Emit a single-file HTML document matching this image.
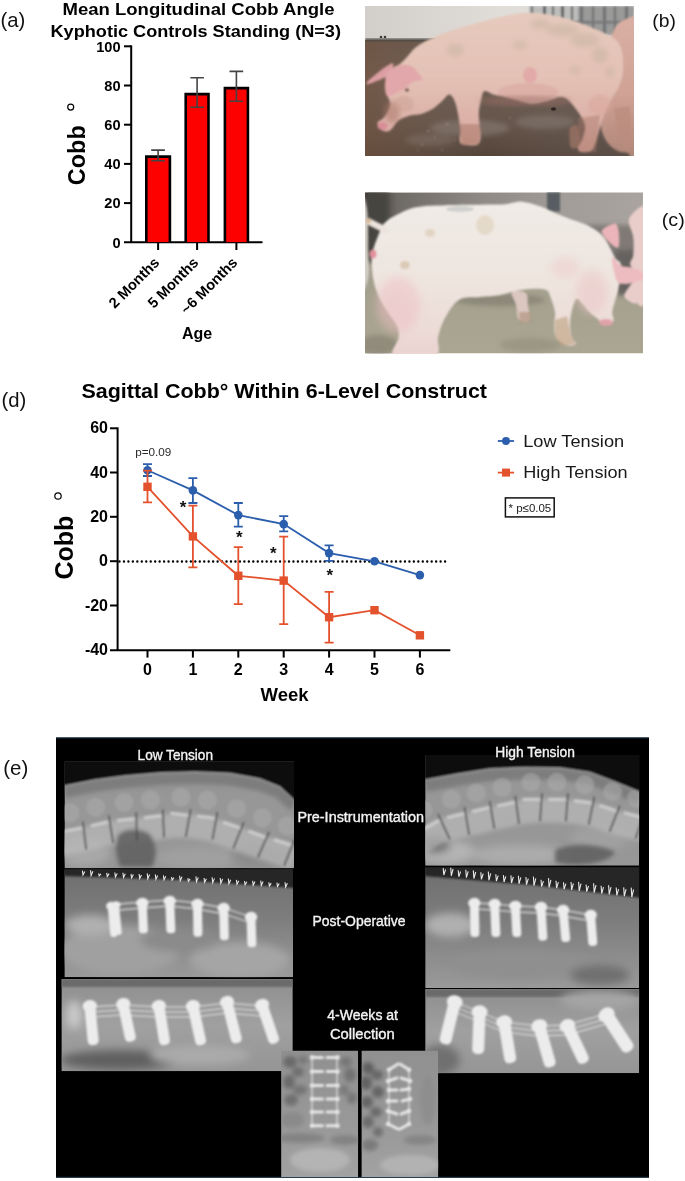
<!DOCTYPE html>
<html><head><meta charset="utf-8">
<style>
html,body{margin:0;padding:0;background:#fff;}
body{width:685px;height:1181px;overflow:hidden;}
svg{display:block;will-change:transform;}
text{font-family:"Liberation Sans",sans-serif;}
</style></head>
<body>
<svg width="685" height="1181" viewBox="0 0 685 1181">
<defs>
  <filter id="blur1" x="-10%" y="-10%" width="120%" height="120%"><feGaussianBlur stdDeviation="1.2"/></filter>
  <filter id="blur2" x="-10%" y="-10%" width="120%" height="120%"><feGaussianBlur stdDeviation="2.5"/></filter>
  <filter id="blur4" x="-20%" y="-20%" width="140%" height="140%"><feGaussianBlur stdDeviation="4"/></filter>
</defs>
<rect width="685" height="1181" fill="#fff"/>

<!-- ============ (a) BAR CHART ============ -->
<g id="chartA">
  <text x="0.5" y="27" font-size="20.3" fill="#111">(a)</text>
  <text x="62.5" y="15" font-size="16.4" font-weight="bold" textLength="272" lengthAdjust="spacingAndGlyphs" fill="#000">Mean Longitudinal Cobb Angle</text>
  <text x="50.5" y="36.8" font-size="16.4" font-weight="bold" textLength="290.5" lengthAdjust="spacingAndGlyphs" fill="#000">Kyphotic Controls Standing (N=3)</text>
  <!-- axes -->
  <g stroke="#000" stroke-width="2" fill="none">
    <line x1="131.2" y1="45.3" x2="131.2" y2="243"/>
    <line x1="124" y1="242.3" x2="262.5" y2="242.3"/>
    <line x1="124" y1="46.3" x2="131" y2="46.3"/>
    <line x1="124" y1="85.5" x2="131" y2="85.5"/>
    <line x1="124" y1="124.7" x2="131" y2="124.7"/>
    <line x1="124" y1="163.9" x2="131" y2="163.9"/>
    <line x1="124" y1="203.1" x2="131" y2="203.1"/>
    <line x1="158.1" y1="242.3" x2="158.1" y2="250"/>
    <line x1="197.1" y1="242.3" x2="197.1" y2="250"/>
    <line x1="236.4" y1="242.3" x2="236.4" y2="250"/>
  </g>
  <g font-size="14.6" font-weight="bold" text-anchor="end" fill="#000">
    <text x="120.6" y="51.6">100</text>
    <text x="120.6" y="90.8">80</text>
    <text x="120.6" y="130">60</text>
    <text x="120.6" y="169.2">40</text>
    <text x="120.6" y="208.4">20</text>
    <text x="120.6" y="247.6">0</text>
  </g>
  <!-- bars -->
  <g fill="#fd0000">
    <rect x="146.3" y="156.6" width="23.6" height="85.5"/>
    <rect x="185.7" y="94.1" width="22.8" height="148"/>
    <rect x="224.9" y="88.1" width="23" height="154"/>
  </g>
  <g fill="none" stroke="#000" stroke-width="2.6">
    <path d="M146.3 242V156.6H169.9V242"/>
    <path d="M185.7 242V94.1H208.5V242"/>
    <path d="M224.9 242V88.1H247.9V242"/>
  </g>
  <!-- error bars -->
  <g stroke="#444" stroke-width="1.6" fill="none">
    <path d="M151.2 150.1H164.9M158.1 150.1V160.7M151.2 160.7H164.9"/>
    <path d="M190.4 77.7H203.9M197.1 77.7V107.2M190.4 107.2H203.9"/>
    <path d="M229.5 71.4H243.2M236.4 71.4V101.2M229.5 101.2H243.2"/>
  </g>
  <!-- y label -->
  <text transform="translate(85,185.2) rotate(-90)" font-size="23.6" font-weight="bold" textLength="60" lengthAdjust="spacingAndGlyphs" fill="#000">Cobb</text>
  <circle cx="70.7" cy="107.1" r="3" fill="none" stroke="#000" stroke-width="1.2"/>
  <!-- x labels rotated -->
  <g font-size="14.7" font-weight="bold" text-anchor="end" fill="#000">
    <text transform="translate(160.3,263.5) rotate(-45)">2 Months</text>
    <text transform="translate(199.3,263.5) rotate(-45)">5 Months</text>
    <text transform="translate(238.4,263.5) rotate(-45)">~6 Months</text>
  </g>
  <text x="182" y="338.6" font-size="16" font-weight="bold" fill="#000">Age</text>
</g>


<g id="photoB">
  <text x="652.3" y="27.4" font-size="18.8" textLength="23.6" lengthAdjust="spacingAndGlyphs" fill="#111">(b)</text>
  <clipPath id="clipB"><rect x="365" y="6" width="269" height="150"/></clipPath>
  <linearGradient id="wallB" x1="0" y1="0" x2="1" y2="0">
    <stop offset="0" stop-color="#d2cec9"/><stop offset="0.5" stop-color="#e0ddd9"/><stop offset="1" stop-color="#dfdedc"/>
  </linearGradient>
  <linearGradient id="floorB" x1="0" y1="0" x2="0" y2="1">
    <stop offset="0" stop-color="#64554c"/><stop offset="0.3" stop-color="#6e5e54"/><stop offset="0.7" stop-color="#65554b"/><stop offset="1" stop-color="#54443a"/>
  </linearGradient>
  <linearGradient id="floorB2" x1="0" y1="0" x2="1" y2="0">
    <stop offset="0" stop-color="#76553f" stop-opacity="0.55"/><stop offset="0.45" stop-color="#7a6a62" stop-opacity="0"/><stop offset="1" stop-color="#5f5855" stop-opacity="0.5"/>
  </linearGradient>
  <linearGradient id="pigB" x1="0" y1="0" x2="0" y2="1">
    <stop offset="0" stop-color="#e6cabd"/><stop offset="0.45" stop-color="#e4c2b6"/><stop offset="0.8" stop-color="#dcb0a6"/><stop offset="1" stop-color="#cf9f93"/>
  </linearGradient>
  <g clip-path="url(#clipB)">
    <rect x="365" y="6" width="269" height="35" fill="url(#wallB)"/>
    <rect x="365" y="40" width="269" height="116" fill="url(#floorB)"/>
    <rect x="365" y="40" width="269" height="116" fill="url(#floorB2)"/>
    <g filter="url(#blur2)">
      <ellipse cx="470" cy="128" rx="40" ry="8" fill="#8d7f78" opacity="0.55"/>
      <ellipse cx="545" cy="122" rx="30" ry="7" fill="#887c76" opacity="0.5"/>
      <ellipse cx="430" cy="140" rx="25" ry="6" fill="#84766f" opacity="0.45"/>
    </g>
    <g fill="#cfc6c1" opacity="0.55" filter="url(#blur1)">
      <circle cx="428" cy="131" r="0.9"/><circle cx="435" cy="137" r="0.8"/><circle cx="422" cy="145" r="0.8"/><circle cx="447" cy="124" r="0.9"/>
      <circle cx="455" cy="140" r="0.7"/><circle cx="418" cy="150" r="0.7"/><circle cx="442" cy="150" r="0.8"/><circle cx="510" cy="118" r="0.8"/>
    </g>
    <rect x="365" y="38.5" width="170" height="2.6" fill="#4a4642" filter="url(#blur1)"/>
    <circle cx="381" cy="37" r="1.3" fill="#3d3a36"/><circle cx="385" cy="37" r="1.3" fill="#3d3a36"/>
    <ellipse cx="553.5" cy="109" rx="2.6" ry="1.8" fill="#2e2420"/>
    <!-- gate -->
    <g filter="url(#blur1)">
      <rect x="529" y="6" width="105" height="28" fill="#bdbdbb"/>
      <g fill="#5a5c5f">
        <rect x="531" y="6" width="2" height="26"/><rect x="543" y="6" width="3" height="26"/><rect x="552" y="6" width="2" height="26"/>
        <rect x="561" y="6" width="3" height="26"/><rect x="571" y="6" width="2" height="26"/><rect x="580" y="6" width="3" height="26"/>
        <rect x="592" y="6" width="2" height="26"/><rect x="603" y="6" width="3" height="28"/><rect x="614" y="6" width="2" height="28"/><rect x="625" y="6" width="3" height="28"/>
      </g>
      <rect x="529" y="21" width="105" height="2.5" fill="#6f6f6f"/>
      <rect x="578" y="6" width="56" height="30" fill="#7d7d7d" opacity="0.55"/>
    </g>
    <g filter="url(#blur1)">
      <linearGradient id="pig2Bg" x1="0" y1="0" x2="0" y2="1"><stop offset="0" stop-color="#dcb2a6"/><stop offset="0.55" stop-color="#d0a296"/><stop offset="1" stop-color="#a98274"/></linearGradient>
      <path d="M611.0 42.0C610.3 36.3 614.2 28.3 618.0 24.0C621.8 19.7 631.0 17.3 634.0 16.0C637.0 14.7 635.7 -7.7 636.0 16.0C636.3 39.7 637.3 135.2 636.0 158.0C634.7 180.8 631.0 154.2 628.0 153.0C625.0 151.8 621.5 152.8 618.0 151.0C614.5 149.2 609.8 146.2 607.0 142.0C604.2 137.8 601.3 131.7 601.0 126.0C600.7 120.3 602.5 113.7 605.0 108.0C607.5 102.3 613.2 97.3 616.0 92.0C618.8 86.7 621.0 81.7 622.0 76.0C623.0 70.3 623.8 63.7 622.0 58.0C620.2 52.3 611.7 47.7 611.0 42.0Z" fill="url(#pig2Bg)"/>
      <path d="M614 108 L630 106 L632 148 L626 152 L618 140 Z" fill="#b98c7e" opacity="0.7"/>
      <path d="M570.0 128.0C571.2 125.8 575.4 123.3 577.0 125.0C578.6 126.7 579.2 134.3 579.5 138.0C579.8 141.7 580.4 145.4 579.0 147.0C577.6 148.6 572.6 149.0 571.0 147.5C569.4 146.0 569.7 141.2 569.5 138.0C569.3 134.8 568.8 130.2 570.0 128.0Z" fill="#8e6c5e"/>
      <path d="M377.8 121.9C377.1 123.2 377.5 125.1 378.6 126.7C379.7 128.3 382.3 130.8 384.3 131.3C386.3 131.8 388.3 131.7 390.7 129.9C393.1 128.1 395.5 122.7 398.7 120.3C401.9 117.9 406.2 116.6 410.0 115.5C413.8 114.4 417.5 115.0 421.2 113.9C424.9 112.8 428.9 111.2 432.4 109.0C435.9 106.8 439.4 103.4 442.1 101.0C444.8 98.6 446.8 95.3 448.5 94.6C450.2 93.9 451.2 95.3 452.5 97.0C453.8 98.7 455.0 101.7 456.0 105.0C457.0 108.3 457.8 112.8 458.5 117.0C459.2 121.2 460.3 126.2 460.5 130.0C460.7 133.8 459.3 137.2 459.5 139.5C459.7 141.8 459.8 143.0 461.5 144.0C463.2 145.0 467.2 145.4 470.0 145.5C472.8 145.6 476.2 145.6 478.0 144.5C479.8 143.4 480.2 141.5 480.5 138.8C480.8 136.1 480.3 132.7 480.0 128.3C479.7 123.9 478.6 117.4 478.8 112.6C479.0 107.8 480.4 103.0 481.3 99.4C482.2 95.8 482.3 91.8 484.5 91.0C486.7 90.2 490.6 93.7 494.4 94.8C498.2 95.9 502.7 96.3 507.5 97.5C512.3 98.7 518.9 101.0 523.3 102.0C527.7 103.0 529.8 103.8 533.8 103.6C537.8 103.4 542.6 102.1 547.0 101.0C551.4 99.9 556.6 97.2 560.1 97.0C563.6 96.8 564.9 97.4 568.0 100.0C571.1 102.6 575.7 108.3 578.5 112.6C581.3 116.9 584.3 121.3 585.0 125.7C585.7 130.1 583.7 135.0 582.5 138.8C581.3 142.6 578.1 146.3 578.0 148.5C577.9 150.7 579.7 151.7 582.0 152.0C584.3 152.3 589.1 152.8 591.6 150.6C594.1 148.4 595.1 143.8 596.9 138.8C598.6 133.8 599.9 126.5 602.1 120.4C604.3 114.3 607.4 107.2 610.0 102.0C612.6 96.8 615.8 93.3 617.9 88.9C620.0 84.5 621.6 80.6 622.5 75.8C623.4 71.0 623.2 64.6 623.0 60.0C622.8 55.4 622.2 51.3 621.0 48.0C619.8 44.7 618.5 42.3 616.0 40.0C613.5 37.7 610.3 36.2 606.0 34.0C601.7 31.8 596.0 29.4 590.0 27.0C584.0 24.6 577.5 21.7 570.0 19.5C562.5 17.3 553.2 15.1 545.0 14.0C536.8 12.9 529.3 12.3 521.0 13.0C512.7 13.7 503.5 16.0 495.0 18.0C486.5 20.0 477.5 22.8 470.0 25.0C462.5 27.2 455.8 29.0 450.0 31.0C444.2 33.0 439.2 35.2 435.0 37.0C430.8 38.8 428.3 39.7 425.0 41.5C421.7 43.3 418.0 45.4 415.0 48.0C412.0 50.6 409.5 54.3 407.0 57.0C404.5 59.7 402.3 62.2 400.0 64.0C397.7 65.8 395.1 65.8 393.0 68.0C390.9 70.2 388.8 73.7 387.5 77.0C386.2 80.3 385.4 84.7 385.5 88.0C385.6 91.3 387.2 94.3 388.0 97.0C388.8 99.7 390.3 101.7 390.2 104.2C390.1 106.8 388.8 109.9 387.5 112.3C386.2 114.7 384.3 117.1 382.7 118.7C381.1 120.3 378.5 120.6 377.8 121.9Z" fill="url(#pigB)"/>
      <g fill="#b3a78f" opacity="0.33" filter="url(#blur2)">
        <ellipse cx="585" cy="40" rx="14" ry="7"/><ellipse cx="562" cy="30" rx="16" ry="6"/><ellipse cx="600" cy="55" rx="8" ry="8"/>
        <ellipse cx="540" cy="24" rx="10" ry="5"/><ellipse cx="455" cy="50" rx="9" ry="6"/><ellipse cx="575" cy="70" rx="5" ry="4"/>
        <ellipse cx="610" cy="72" rx="4" ry="6"/><ellipse cx="520" cy="45" rx="7" ry="4"/>
      </g>
      <ellipse cx="528" cy="92" rx="30" ry="9" fill="#d49a96" opacity="0.35"/>
      <ellipse cx="525" cy="101" rx="46" ry="5" fill="#9c7067" opacity="0.55" filter="url(#blur2)"/>
      <ellipse cx="530" cy="75" rx="7" ry="8" fill="#e08e98" opacity="0.45"/>
      <ellipse cx="600" cy="105" rx="12" ry="10" fill="#d9a399" opacity="0.4"/>
      <path d="M459 124 L480 124 L479 144 L462 145 Z" fill="#a9786a" opacity="0.55"/>
      <path d="M578 118 L600 115 L596 152 L579 152 Z" fill="#a9786a" opacity="0.45"/>
      <ellipse cx="392" cy="112" rx="8" ry="11" fill="#a9786a" opacity="0.55" filter="url(#blur2)"/>
      <ellipse cx="404" cy="104" rx="10" ry="8" fill="#c9a093" opacity="0.45"/>
      <path d="M393.0 63.5C391.8 62.5 387.0 66.1 384.0 68.0C381.0 69.9 377.7 72.8 375.0 75.0C372.3 77.2 369.4 79.5 368.0 81.0C366.6 82.5 366.0 83.6 366.3 84.0C366.6 84.4 368.1 84.1 370.0 83.5C371.9 82.9 375.3 81.6 378.0 80.5C380.7 79.4 383.8 78.1 386.0 77.0C388.2 75.9 389.8 76.2 391.0 74.0C392.2 71.8 394.2 64.5 393.0 63.5Z" fill="#dc9fa3"/>
      <path d="M387.5 72.1C389.9 69.9 396.3 66.2 400.3 65.2C404.3 64.2 408.7 65.0 411.6 66.3C414.6 67.5 416.2 70.5 418.0 72.7C419.8 74.9 423.3 78.0 422.5 79.5C421.7 81.0 416.1 80.3 413.2 81.8C410.3 83.2 408.1 86.3 405.1 88.2C402.2 90.1 398.4 91.9 395.5 93.3C392.6 94.7 389.2 97.3 387.5 96.5C385.8 95.7 385.3 91.2 385.0 88.2C384.7 85.2 385.2 81.2 385.6 78.5C386.0 75.8 385.1 74.3 387.5 72.1Z" fill="#e2a7aa"/>
      <ellipse cx="407" cy="90" rx="2.2" ry="1.6" fill="#5a3e38"/>
      <ellipse cx="382.5" cy="126" rx="5" ry="4" fill="#d88e98"/>
    </g>
  </g>
</g>
<g id="photoC">
  <text x="661.8" y="226.3" font-size="18.8" textLength="23" lengthAdjust="spacingAndGlyphs" fill="#111">(c)</text>
  <clipPath id="clipC"><rect x="365" y="192.5" width="278" height="161"/></clipPath>
  <linearGradient id="floorC" x1="0" y1="0" x2="0" y2="1">
    <stop offset="0" stop-color="#86817a"/><stop offset="0.4" stop-color="#a29e8d"/><stop offset="1" stop-color="#aaa692"/>
  </linearGradient>
  <linearGradient id="pigC" x1="0" y1="0" x2="0" y2="1">
    <stop offset="0" stop-color="#f0ebe6"/><stop offset="0.5" stop-color="#eee5df"/><stop offset="0.8" stop-color="#ecdcd7"/><stop offset="1" stop-color="#ebd2d1"/>
  </linearGradient>
  <linearGradient id="wallC" x1="0" y1="0" x2="1" y2="0">
    <stop offset="0" stop-color="#3e3d3a"/><stop offset="0.12" stop-color="#6e6a65"/><stop offset="0.4" stop-color="#8d8883"/><stop offset="0.7" stop-color="#a19c97"/><stop offset="1" stop-color="#a9a49f"/>
  </linearGradient>
  <g clip-path="url(#clipC)">
    <rect x="365" y="192.5" width="278" height="161" fill="url(#floorC)"/>
    <rect x="365" y="192.5" width="278" height="42" fill="url(#wallC)"/>
    <g filter="url(#blur2)">
      <rect x="365" y="192.5" width="24" height="70" fill="#46443f"/>
      <rect x="585" y="225" width="58" height="60" fill="#7f7a75"/>
      <rect x="615" y="250" width="28" height="45" fill="#66625e"/>
      <ellipse cx="378" cy="345" rx="20" ry="10" fill="#807a6c" opacity="0.6"/>
      <ellipse cx="530" cy="345" rx="30" ry="7" fill="#8e8a78" opacity="0.5"/>
      <ellipse cx="500" cy="300" rx="45" ry="6" fill="#7c776a" opacity="0.6"/>
    </g>
    <rect x="547" y="192.5" width="13" height="19" fill="#585d63" filter="url(#blur1)"/>
    <g filter="url(#blur1)">
      <path d="M363.0 203.0C363.6 190.0 365.7 202.3 366.5 206.0C367.3 209.7 367.8 217.7 368.0 225.0C368.2 232.3 367.8 242.5 368.0 250.0C368.2 257.5 369.2 264.5 369.0 270.0C368.8 275.5 368.0 280.7 367.0 283.0C366.0 285.3 363.7 297.3 363.0 284.0C362.3 270.7 362.4 216.0 363.0 203.0Z" fill="#d3cdc8"/>
      <path d="M628.7 220.6C629.2 216.1 633.8 212.4 636.2 210.0C638.6 207.6 641.5 206.7 643.0 206.0C644.5 205.3 644.7 190.7 645.0 206.0C645.3 221.3 646.5 281.8 645.0 298.0C643.5 314.2 638.7 302.7 636.2 303.3C633.7 303.9 632.2 303.1 630.2 301.8C628.2 300.6 624.2 298.6 624.2 295.8C624.2 293.0 628.2 288.5 630.2 285.2C632.2 281.9 636.2 279.7 636.2 276.2C636.2 272.7 630.7 267.7 630.2 264.2C629.7 260.7 632.7 259.7 633.2 255.2C633.7 250.7 634.0 242.9 633.2 237.1C632.5 231.3 628.2 225.1 628.7 220.6Z" fill="#e9cdcb"/>
      <path d="M512.0 292.0C510.3 294.0 515.0 300.7 516.0 305.0C517.0 309.3 516.8 315.2 518.0 318.0C519.2 320.8 521.0 321.7 523.0 322.0C525.0 322.3 529.2 322.7 530.0 320.0C530.8 317.3 528.7 310.5 528.0 306.0C527.3 301.5 528.7 295.3 526.0 293.0C523.3 290.7 513.7 290.0 512.0 292.0Z" fill="#dcc6c0"/>
      <path d="M519 312 L530 312 L531 322 L520 323 Z" fill="#a98e74" opacity="0.6"/>
      <path d="M382.5 225.6C384.1 223.0 386.1 221.6 388.0 220.0C389.9 218.4 390.7 218.0 394.2 216.2C397.7 214.4 403.9 210.8 408.8 209.2C413.7 207.5 418.5 206.9 423.4 206.3C428.3 205.7 433.1 205.8 438.0 205.6C442.9 205.4 447.3 205.1 452.6 205.0C457.9 204.9 463.8 204.9 470.0 204.8C476.2 204.7 484.2 204.6 490.0 204.5C495.8 204.4 499.9 204.8 505.0 204.3C510.1 203.8 515.1 201.1 520.9 201.4C526.7 201.7 534.3 204.4 540.0 206.3C545.7 208.2 550.0 210.9 555.0 213.0C560.0 215.1 565.0 217.1 570.0 219.0C575.0 220.9 580.6 222.3 585.1 224.3C589.6 226.3 593.8 228.7 597.1 231.1C600.4 233.5 602.4 235.6 604.7 238.6C607.0 241.6 609.0 245.8 610.7 249.1C612.5 252.4 613.5 255.4 615.2 258.2C617.0 261.0 620.7 260.4 621.2 265.7C621.7 270.9 619.2 283.9 618.2 289.7C617.2 295.5 616.2 296.5 615.2 300.3C614.2 304.1 612.5 309.1 612.2 312.3C612.0 315.6 614.0 317.8 613.7 319.8C613.5 321.8 612.2 323.4 610.7 324.3C609.2 325.2 606.5 325.8 604.7 325.3C603.0 324.8 601.5 322.5 600.2 321.3C598.9 320.1 598.9 319.8 597.1 318.3C595.3 316.8 592.4 315.1 589.6 312.3C586.9 309.6 582.9 304.0 580.6 301.8C578.4 299.6 577.5 298.1 576.1 299.3C574.7 300.6 573.3 305.4 572.3 309.3C571.3 313.2 570.2 318.3 570.1 322.8C570.0 327.3 570.6 332.9 571.6 336.4C572.6 339.9 576.9 342.4 576.1 343.9C575.4 345.4 569.9 346.1 567.1 345.6C564.3 345.1 561.5 342.7 559.5 340.9C557.5 339.1 555.9 337.9 555.0 334.9C554.1 331.9 554.3 326.6 554.3 322.8C554.3 319.0 555.6 316.6 555.0 312.3C554.4 308.1 552.0 301.0 550.5 297.3C549.0 293.6 549.4 291.4 546.0 290.0C542.6 288.6 535.2 288.8 530.0 289.0C524.8 289.2 520.0 290.0 515.0 291.0C510.0 292.0 505.8 294.0 500.0 295.0C494.2 296.0 486.2 296.5 480.0 297.0C473.8 297.5 467.6 296.5 463.0 298.0C458.4 299.5 456.0 301.7 452.6 305.9C449.2 310.1 444.8 318.0 442.4 323.4C440.0 328.8 439.2 332.6 438.0 338.0C436.8 343.4 442.4 353.0 435.1 356.0C427.8 359.0 400.3 359.0 394.2 356.0C388.1 353.0 398.1 342.9 398.6 338.0C399.1 333.1 398.8 330.4 397.1 326.3C395.4 322.2 391.1 317.3 388.4 313.2C385.7 309.1 383.3 305.9 381.1 301.5C378.9 297.1 376.7 291.8 375.2 286.9C373.7 282.0 372.9 277.2 372.3 272.3C371.7 267.4 371.4 261.8 371.6 257.7C371.9 253.6 372.7 251.2 373.8 247.5C374.9 243.8 376.7 239.5 378.1 235.8C379.6 232.2 380.9 228.2 382.5 225.6Z" fill="url(#pigC)"/>
      <path d="M369 221.5 Q375 225 386 230" fill="none" stroke="#ebe3dc" stroke-width="6.5" stroke-linecap="round"/>
      <ellipse cx="368.4" cy="220.8" rx="2.6" ry="2.6" fill="#d6b894"/>
      <ellipse cx="373" cy="254" rx="3.5" ry="4.5" fill="#e38f9c"/>
      <ellipse cx="398" cy="305" rx="22" ry="28" fill="#edbdc2" opacity="0.5" filter="url(#blur4)"/>
      <ellipse cx="592" cy="292" rx="16" ry="22" fill="#ebc6c6" opacity="0.55" filter="url(#blur4)"/>
      <ellipse cx="565" cy="268" rx="14" ry="10" fill="#eec9c9" opacity="0.5" filter="url(#blur4)"/>
      <ellipse cx="405" cy="265" rx="5" ry="4" fill="#cdb79a" opacity="0.6"/>
      <ellipse cx="430" cy="233" rx="5" ry="4" fill="#d6c3a8" opacity="0.55"/>
      <ellipse cx="485" cy="225" rx="9" ry="10" fill="#d8c7ab" opacity="0.45"/>
      <ellipse cx="460" cy="209" rx="14" ry="3" fill="#a7afaf" opacity="0.45"/>
      <path d="M601.7 231.1C602.3 227.8 611.1 224.2 613.7 223.4C616.4 222.7 616.7 224.3 617.6 226.6C618.5 228.9 619.1 233.6 619.2 237.1C619.3 240.6 619.7 246.6 618.2 247.6C616.7 248.6 612.8 245.8 610.0 243.0C607.2 240.2 601.1 234.4 601.7 231.1Z" fill="#eab4ba"/>
      <path d="M612.0 258.0C612.8 255.5 618.2 264.2 621.2 265.7C624.2 267.2 627.2 266.4 630.2 267.2C633.2 267.9 637.0 269.1 639.2 270.2C641.4 271.3 642.9 272.5 643.5 274.0C644.1 275.5 644.5 277.8 642.8 279.2C641.1 280.6 636.3 281.6 633.2 282.4C630.1 283.2 627.0 284.2 624.2 283.9C621.5 283.6 618.7 285.0 616.7 280.7C614.7 276.4 611.2 260.5 612.0 258.0Z" fill="#edbcc0"/>
      <ellipse cx="606" cy="322.5" rx="7" ry="3.5" fill="#e0a1a8"/>
      <path d="M555 320 L567 316 L571 336 L576 344 L561 346 L555 335 Z" fill="#b89a74" opacity="0.55"/>
    </g>
  </g>
</g>
<!-- ============ (d) LINE CHART ============ -->
<g id="chartD">
  <text x="1.5" y="406.5" font-size="20.3" fill="#111">(d)</text>
  <text x="81.5" y="397.5" font-size="19.3" font-weight="bold" textLength="405.5" lengthAdjust="spacingAndGlyphs" fill="#000">Sagittal Cobb° Within 6-Level Construct</text>
  <g stroke="#000" stroke-width="2" fill="none">
    <line x1="117.6" y1="427.3" x2="117.6" y2="651"/>
    <line x1="110" y1="650.3" x2="450.3" y2="650.3"/>
    <line x1="110" y1="428.3" x2="117" y2="428.3"/>
    <line x1="110" y1="472.5" x2="117" y2="472.5"/>
    <line x1="110" y1="516.8" x2="117" y2="516.8"/>
    <line x1="110" y1="561.2" x2="117" y2="561.2"/>
    <line x1="110" y1="605.5" x2="117" y2="605.5"/>
    <line x1="147.5" y1="650" x2="147.5" y2="657.6"/>
    <line x1="192.9" y1="650" x2="192.9" y2="657.6"/>
    <line x1="238.3" y1="650" x2="238.3" y2="657.6"/>
    <line x1="283.7" y1="650" x2="283.7" y2="657.6"/>
    <line x1="329.1" y1="650" x2="329.1" y2="657.6"/>
    <line x1="374.5" y1="650" x2="374.5" y2="657.6"/>
    <line x1="419.9" y1="650" x2="419.9" y2="657.6"/>
  </g>
  <g font-size="16" font-weight="bold" text-anchor="end" fill="#000">
    <text x="108" y="433.3">60</text>
    <text x="108" y="477.5">40</text>
    <text x="108" y="521.8">20</text>
    <text x="108" y="566.2">0</text>
    <text x="108" y="610.5">-20</text>
    <text x="108" y="654.8">-40</text>
  </g>
  <g font-size="16" font-weight="bold" text-anchor="middle" fill="#000">
    <text x="147.5" y="674.6">0</text>
    <text x="192.9" y="674.6">1</text>
    <text x="238.3" y="674.6">2</text>
    <text x="283.7" y="674.6">3</text>
    <text x="329.1" y="674.6">4</text>
    <text x="374.5" y="674.6">5</text>
    <text x="419.9" y="674.6">6</text>
  </g>
  <text x="260.5" y="701" font-size="18.5" font-weight="bold" fill="#000">Week</text>
  <text transform="translate(72.6,579.6) rotate(-90)" font-size="25" font-weight="bold" textLength="64" lengthAdjust="spacingAndGlyphs" fill="#000">Cobb</text>
  <circle cx="58" cy="496" r="3.2" fill="none" stroke="#000" stroke-width="1.2"/>
  <!-- dotted zero line -->
  <line x1="119.5" y1="561.5" x2="448" y2="561.5" stroke="#000" stroke-width="2.4" stroke-linecap="round" stroke-dasharray="0 4.46"/>
  <text x="135.2" y="455.6" font-size="11.7" fill="#2a2a2a">p=0.09</text>
  <!-- blue series -->
  <g stroke="#2b5fad" stroke-width="1.8" fill="none">
    <path d="M147.5 470.2L192.9 490.4L238.3 515.1L283.7 524.1L329.1 553.1L374.5 561.3L419.9 575.1"/>
    <path d="M147.5 464.2V476M143 464.2H152M143 476H152"/>
    <path d="M192.9 478.1V503M188.4 478.1H197.4M188.4 503H197.4"/>
    <path d="M238.3 503V526.7M233.8 503H242.8M233.8 526.7H242.8"/>
    <path d="M283.7 516.2V531.4M279.2 516.2H288.2M279.2 531.4H288.2"/>
    <path d="M329.1 545.4V560.8M324.6 545.4H333.6M324.6 560.8H333.6"/>
  </g>
  <g fill="#2b5fad">
    <circle cx="147.5" cy="470.2" r="4.3"/>
    <circle cx="192.9" cy="490.4" r="4.3"/>
    <circle cx="238.3" cy="515.1" r="4.3"/>
    <circle cx="283.7" cy="524.1" r="4.3"/>
    <circle cx="329.1" cy="553.1" r="4.3"/>
    <circle cx="374.5" cy="561.3" r="4.3"/>
    <circle cx="419.9" cy="575.1" r="4.3"/>
  </g>
  <!-- red series -->
  <g stroke="#e4512d" stroke-width="1.8" fill="none">
    <path d="M147.5 486.8L192.9 536.4L238.3 575.8L283.7 580.6L329.1 617.2L374.5 610.2L419.9 635.3"/>
    <path d="M147.5 470.7V502.3M143 502.3H152M143 470.7H152"/>
    <path d="M192.9 505.7V567.4M188.4 505.7H197.4M188.4 567.4H197.4"/>
    <path d="M238.3 547.2V604.2M233.8 547.2H242.8M233.8 604.2H242.8"/>
    <path d="M283.7 536.7V624.1M279.2 536.7H288.2M279.2 624.1H288.2"/>
    <path d="M329.1 591.8V642.7M324.6 591.8H333.6M324.6 642.7H333.6"/>
  </g>
  <g fill="#e4512d">
    <rect x="143.3" y="482.6" width="8.4" height="8.4"/>
    <rect x="188.7" y="532.2" width="8.4" height="8.4"/>
    <rect x="234.1" y="571.6" width="8.4" height="8.4"/>
    <rect x="279.5" y="576.4" width="8.4" height="8.4"/>
    <rect x="324.9" y="613" width="8.4" height="8.4"/>
    <rect x="370.3" y="606" width="8.4" height="8.4"/>
    <rect x="415.7" y="631.1" width="8.4" height="8.4"/>
  </g>
  <!-- stars -->
  <g font-size="17" font-weight="bold" text-anchor="middle" fill="#111">
    <text x="183" y="512.8">*</text>
    <text x="239.3" y="543">*</text>
    <text x="273.4" y="559.4">*</text>
    <text x="329.8" y="581.1">*</text>
  </g>
  <!-- legend -->
  <line x1="497.8" y1="441" x2="514.1" y2="441" stroke="#2b5fad" stroke-width="1.8"/>
  <circle cx="506" cy="441" r="4" fill="#2b5fad"/>
  <line x1="497.8" y1="472.6" x2="514.1" y2="472.6" stroke="#e4512d" stroke-width="1.8"/>
  <rect x="502" y="468.6" width="8" height="8" fill="#e4512d"/>
  <text x="523.2" y="447" font-size="17" textLength="101" lengthAdjust="spacingAndGlyphs" fill="#1a1a1a">Low Tension</text>
  <text x="523.2" y="477.7" font-size="17" textLength="104.5" lengthAdjust="spacingAndGlyphs" fill="#1a1a1a">High Tension</text>
  <rect x="505.4" y="497.9" width="48.8" height="19" fill="none" stroke="#111" stroke-width="1.5"/>
  <text x="508.5" y="511.5" font-size="11.5" fill="#222">* p≤0.05</text>
</g>

<g id="panelE">
<text x="3.2" y="775.3" font-size="20.5" fill="#111">(e)</text>
<rect x="56" y="737.5" width="593" height="440.2" fill="#000"/>
<line x1="56" y1="737.9" x2="649" y2="737.9" stroke="#1e3a55" stroke-width="0.9"/>
<line x1="56" y1="1177.3" x2="649" y2="1177.3" stroke="#1e3a55" stroke-width="0.9"/>
<defs>
<filter id="xb1" x="-5%" y="-5%" width="110%" height="110%"><feGaussianBlur stdDeviation="0.8"/></filter>
<filter id="xb2" x="-10%" y="-10%" width="120%" height="120%"><feGaussianBlur stdDeviation="2"/></filter>
<filter id="xb4" x="-20%" y="-20%" width="140%" height="140%"><feGaussianBlur stdDeviation="4"/></filter>
<linearGradient id="gBodyL" x1="0" y1="0" x2="0" y2="1"><stop offset="0" stop-color="#a8a8a8"/><stop offset="0.4" stop-color="#9a9a9a"/><stop offset="1" stop-color="#8c8c8c"/></linearGradient>
<linearGradient id="gPost" x1="0" y1="0" x2="0" y2="1"><stop offset="0" stop-color="#6f6f6f"/><stop offset="0.45" stop-color="#7d7d7d"/><stop offset="1" stop-color="#9a9a9a"/></linearGradient>
<linearGradient id="g4w" x1="0" y1="0" x2="0" y2="1"><stop offset="0" stop-color="#8e8e8e"/><stop offset="0.5" stop-color="#a0a0a0"/><stop offset="1" stop-color="#959595"/></linearGradient>
<linearGradient id="gAP" x1="0" y1="0" x2="0" y2="1"><stop offset="0" stop-color="#909090"/><stop offset="0.6" stop-color="#999"/><stop offset="1" stop-color="#a2a2a2"/></linearGradient>
</defs>
<clipPath id="cL1"><rect x="64.5" y="761.4" width="229.5" height="106.9"/></clipPath>
<g clip-path="url(#cL1)">
<rect x="64.5" y="761.4" width="229.5" height="106.9" fill="#979797"/>
<g filter="url(#xb4)">
<ellipse cx="85" cy="852" rx="25" ry="14" fill="#a8a8a8"/>
<ellipse cx="200" cy="858" rx="45" ry="10" fill="#a0a0a0"/>
<ellipse cx="260" cy="856" rx="30" ry="12" fill="#8c8c8c"/>
<ellipse cx="180" cy="788" rx="60" ry="8" fill="#959595"/>
</g>
<g filter="url(#xb2)">
<path d="M64.5 792.0 L95.0 786.0 L125.0 782.0 L160.0 779.0 L195.0 778.0 L230.0 779.5 L260.0 785.0 L280.0 793.0 L294.0 806.0" fill="none" stroke="#727272" stroke-width="12" opacity="0.7"/>
<path d="M60.0 832.0C63.7 831.3 73.5 829.6 82.0 827.8C90.5 826.0 101.2 822.6 111.0 821.0C120.8 819.4 130.2 819.2 141.0 818.0C151.8 816.8 165.0 814.0 176.0 813.8C187.0 813.6 197.7 815.1 207.0 817.0C216.3 818.9 222.7 821.8 232.0 825.0C241.3 828.2 252.5 832.5 263.0 836.0C273.5 839.5 289.7 844.3 295.0 846.0" fill="none" stroke="#bcbcbc" stroke-width="24" opacity="0.65" transform="translate(0,12)"/>
<path d="M118 835 C125 828 140 828 150 834 C156 842 158 856 152 867 L120 867 C116 856 114 844 118 835Z" fill="#5e5e5e" opacity="0.85"/>
</g>
<g filter="url(#xb1)">
<circle cx="70.0" cy="812.8" r="9.5" fill="#ababab" opacity="0.55"/>
<g transform="translate(73.2,829.5) rotate(-10.8)"><rect x="-9" y="-1.5" width="18" height="3.5" rx="1.5" fill="#d4d4d4" opacity="0.75"/><line x1="11" y1="-6" x2="9" y2="22" stroke="#4a4a4a" stroke-width="1.8" opacity="0.75"/></g>
<circle cx="95.5" cy="807.2" r="9.5" fill="#ababab" opacity="0.55"/>
<g transform="translate(99.4,823.7) rotate(-13.2)"><rect x="-9" y="-1.5" width="18" height="3.5" rx="1.5" fill="#d4d4d4" opacity="0.75"/><line x1="11" y1="-6" x2="9" y2="22" stroke="#4a4a4a" stroke-width="1.8" opacity="0.75"/></g>
<circle cx="124.1" cy="802.6" r="9.5" fill="#ababab" opacity="0.55"/>
<g transform="translate(125.8,819.5) rotate(-5.7)"><rect x="-9" y="-1.5" width="18" height="3.5" rx="1.5" fill="#d4d4d4" opacity="0.75"/><line x1="11" y1="-6" x2="9" y2="22" stroke="#4a4a4a" stroke-width="1.8" opacity="0.75"/></g>
<circle cx="150.4" cy="799.7" r="9.5" fill="#ababab" opacity="0.55"/>
<g transform="translate(152.5,816.6) rotate(-6.8)"><rect x="-9" y="-1.5" width="18" height="3.5" rx="1.5" fill="#d4d4d4" opacity="0.75"/><line x1="11" y1="-6" x2="9" y2="22" stroke="#4a4a4a" stroke-width="1.8" opacity="0.75"/></g>
<circle cx="180.9" cy="797.2" r="9.5" fill="#ababab" opacity="0.55"/>
<g transform="translate(179.1,814.1) rotate(5.9)"><rect x="-9" y="-1.5" width="18" height="3.5" rx="1.5" fill="#d4d4d4" opacity="0.75"/><line x1="11" y1="-6" x2="9" y2="22" stroke="#4a4a4a" stroke-width="1.8" opacity="0.75"/></g>
<circle cx="207.5" cy="800.0" r="9.5" fill="#ababab" opacity="0.55"/>
<g transform="translate(205.8,816.9) rotate(5.9)"><rect x="-9" y="-1.5" width="18" height="3.5" rx="1.5" fill="#d4d4d4" opacity="0.75"/><line x1="11" y1="-6" x2="9" y2="22" stroke="#4a4a4a" stroke-width="1.8" opacity="0.75"/></g>
<circle cx="236.6" cy="808.6" r="9.5" fill="#ababab" opacity="0.55"/>
<g transform="translate(231.4,824.8) rotate(17.7)"><rect x="-9" y="-1.5" width="18" height="3.5" rx="1.5" fill="#d4d4d4" opacity="0.75"/><line x1="11" y1="-6" x2="9" y2="22" stroke="#4a4a4a" stroke-width="1.8" opacity="0.75"/></g>
<circle cx="262.4" cy="817.7" r="9.5" fill="#ababab" opacity="0.55"/>
<g transform="translate(256.7,833.8) rotate(19.5)"><rect x="-9" y="-1.5" width="18" height="3.5" rx="1.5" fill="#d4d4d4" opacity="0.75"/><line x1="11" y1="-6" x2="9" y2="22" stroke="#4a4a4a" stroke-width="1.8" opacity="0.75"/></g>
<circle cx="287.3" cy="825.8" r="9.5" fill="#ababab" opacity="0.55"/>
<g transform="translate(282.2,842.0) rotate(17.4)"><rect x="-9" y="-1.5" width="18" height="3.5" rx="1.5" fill="#d4d4d4" opacity="0.75"/><line x1="11" y1="-6" x2="9" y2="22" stroke="#4a4a4a" stroke-width="1.8" opacity="0.75"/></g>
</g>
<path d="M62.5 759.4 L296.0 759.4 L296.0 799.0 L294.0 799.0 L280.0 786.0 L260.0 778.0 L230.0 772.5 L195.0 771.0 L160.0 772.0 L125.0 775.0 L95.0 779.0 L64.5 785.0 L62.5 785.0 Z" fill="#0b0b0b" filter="url(#xb1)"/>
<path d="M64.5 786.2 L95.0 780.2 L125.0 776.2 L160.0 773.2 L195.0 772.2 L230.0 773.7 L260.0 779.2 L280.0 787.2 L294.0 800.2" fill="none" stroke="#8a8a8a" stroke-width="1.4" opacity="0.8" filter="url(#xb1)"/>
</g>
<clipPath id="cR1"><rect x="425.2" y="755.1" width="214" height="110.6"/></clipPath>
<g clip-path="url(#cR1)">
<rect x="425.2" y="755.1" width="214" height="110.6" fill="#979797"/>
<g filter="url(#xb4)">
<ellipse cx="445" cy="852" rx="30" ry="12" fill="#b4b4b4"/>
<ellipse cx="520" cy="855" rx="50" ry="10" fill="#acacac"/>
<ellipse cx="600" cy="838" rx="30" ry="12" fill="#a0a0a0"/>
<ellipse cx="435" cy="845" rx="15" ry="8" fill="#6e6e6e"/>
</g>
<g filter="url(#xb2)">
<path d="M425.2 786.0 L458.0 780.0 L490.0 775.0 L525.0 773.4 L560.0 774.0 L590.0 778.4 L615.0 788.0 L639.4 798.0" fill="none" stroke="#727272" stroke-width="12" opacity="0.7"/>
<path d="M420.0 831.0C423.6 829.0 431.0 822.7 441.4 819.0C451.8 815.3 467.9 812.3 482.4 809.0C496.9 805.7 514.7 800.9 528.4 799.3C542.1 797.7 554.1 798.8 564.5 799.3C574.9 799.8 582.0 800.7 590.8 802.6C599.5 804.5 608.0 808.2 617.0 810.8C626.0 813.4 640.3 816.8 645.0 818.0" fill="none" stroke="#bcbcbc" stroke-width="24" opacity="0.65" transform="translate(0,12)"/>
<path d="M555 850 C570 842 600 844 615 852 C610 864 570 868 555 862Z" fill="#5e5e5e" opacity="0.85"/>
</g>
<g filter="url(#xb1)">
<circle cx="423.0" cy="809.8" r="9.5" fill="#ababab" opacity="0.55"/>
<g transform="translate(431.3,824.7) rotate(-29.3)"><rect x="-9" y="-1.5" width="18" height="3.5" rx="1.5" fill="#d4d4d4" opacity="0.75"/><line x1="11" y1="-6" x2="9" y2="22" stroke="#4a4a4a" stroke-width="1.8" opacity="0.75"/></g>
<circle cx="451.2" cy="799.1" r="9.5" fill="#ababab" opacity="0.55"/>
<g transform="translate(455.2,815.6) rotate(-13.7)"><rect x="-9" y="-1.5" width="18" height="3.5" rx="1.5" fill="#d4d4d4" opacity="0.75"/><line x1="11" y1="-6" x2="9" y2="22" stroke="#4a4a4a" stroke-width="1.8" opacity="0.75"/></g>
<circle cx="476.3" cy="793.0" r="9.5" fill="#ababab" opacity="0.55"/>
<g transform="translate(480.4,809.5) rotate(-13.7)"><rect x="-9" y="-1.5" width="18" height="3.5" rx="1.5" fill="#d4d4d4" opacity="0.75"/><line x1="11" y1="-6" x2="9" y2="22" stroke="#4a4a4a" stroke-width="1.8" opacity="0.75"/></g>
<circle cx="502.1" cy="787.5" r="9.5" fill="#ababab" opacity="0.55"/>
<g transform="translate(505.7,804.1) rotate(-11.9)"><rect x="-9" y="-1.5" width="18" height="3.5" rx="1.5" fill="#d4d4d4" opacity="0.75"/><line x1="11" y1="-6" x2="9" y2="22" stroke="#4a4a4a" stroke-width="1.8" opacity="0.75"/></g>
<circle cx="531.0" cy="782.3" r="9.5" fill="#ababab" opacity="0.55"/>
<g transform="translate(531.0,799.3) rotate(0.0)"><rect x="-9" y="-1.5" width="18" height="3.5" rx="1.5" fill="#d4d4d4" opacity="0.75"/><line x1="11" y1="-6" x2="9" y2="22" stroke="#4a4a4a" stroke-width="1.8" opacity="0.75"/></g>
<circle cx="556.9" cy="782.3" r="9.5" fill="#ababab" opacity="0.55"/>
<g transform="translate(556.9,799.3) rotate(0.0)"><rect x="-9" y="-1.5" width="18" height="3.5" rx="1.5" fill="#d4d4d4" opacity="0.75"/><line x1="11" y1="-6" x2="9" y2="22" stroke="#4a4a4a" stroke-width="1.8" opacity="0.75"/></g>
<circle cx="584.7" cy="784.7" r="9.5" fill="#ababab" opacity="0.55"/>
<g transform="translate(582.6,801.6) rotate(7.2)"><rect x="-9" y="-1.5" width="18" height="3.5" rx="1.5" fill="#d4d4d4" opacity="0.75"/><line x1="11" y1="-6" x2="9" y2="22" stroke="#4a4a4a" stroke-width="1.8" opacity="0.75"/></g>
<circle cx="612.7" cy="791.6" r="9.5" fill="#ababab" opacity="0.55"/>
<g transform="translate(607.6,807.9) rotate(17.4)"><rect x="-9" y="-1.5" width="18" height="3.5" rx="1.5" fill="#d4d4d4" opacity="0.75"/><line x1="11" y1="-6" x2="9" y2="22" stroke="#4a4a4a" stroke-width="1.8" opacity="0.75"/></g>
<circle cx="636.7" cy="798.3" r="9.5" fill="#ababab" opacity="0.55"/>
<g transform="translate(632.5,814.8) rotate(14.4)"><rect x="-9" y="-1.5" width="18" height="3.5" rx="1.5" fill="#d4d4d4" opacity="0.75"/><line x1="11" y1="-6" x2="9" y2="22" stroke="#4a4a4a" stroke-width="1.8" opacity="0.75"/></g>
</g>
<path d="M423.2 753.1 L641.2 753.1 L641.2 791.0 L639.4 791.0 L615.0 781.0 L590.0 771.4 L560.0 767.0 L525.0 766.4 L490.0 768.0 L458.0 773.0 L425.2 779.0 L423.2 779.0 Z" fill="#0b0b0b" filter="url(#xb1)"/>
<path d="M425.2 780.2 L458.0 774.2 L490.0 769.2 L525.0 767.6 L560.0 768.2 L590.0 772.6 L615.0 782.2 L639.4 792.2" fill="none" stroke="#8a8a8a" stroke-width="1.4" opacity="0.8" filter="url(#xb1)"/>
</g>
<clipPath id="cL2"><rect x="64.4" y="869.5" width="228.6" height="107.7"/></clipPath>
<g clip-path="url(#cL2)">
<rect x="64.4" y="869.5" width="228.6" height="107.7" fill="url(#gPost)"/>
<g filter="url(#xb4)">
<ellipse cx="120" cy="950" rx="60" ry="25" fill="#a0a0a0"/>
<ellipse cx="240" cy="960" rx="50" ry="18" fill="#a5a5a5"/>
<ellipse cx="90" cy="925" rx="25" ry="10" fill="#b0b0b0"/>
<ellipse cx="180" cy="940" rx="40" ry="12" fill="#8a8a8a"/>
</g>
<path d="M62.400000000000006 867.5 L295.0 867.5 L295.0 888 L178.7 880.0 L62.400000000000006 876 Z" fill="#262626" filter="url(#xb1)"/>
<path d="M82.4 870.7 l0.6 4.3 l1.8 -3.4" fill="none" stroke="#e8e8e8" stroke-width="1.1"/>
<path d="M90.5 870.2 l0.6 5.3 l1.8 -4.2" fill="none" stroke="#e8e8e8" stroke-width="1.1"/>
<path d="M98.6 873.4 l0.6 2.5 l1.8 -2.0" fill="none" stroke="#e8e8e8" stroke-width="1.1"/>
<path d="M106.7 872.9 l0.6 3.6 l1.8 -2.9" fill="none" stroke="#e8e8e8" stroke-width="1.1"/>
<path d="M114.8 872.5 l0.6 4.5 l1.8 -3.6" fill="none" stroke="#e8e8e8" stroke-width="1.1"/>
<path d="M122.9 872.8 l0.6 4.6 l1.8 -3.7" fill="none" stroke="#e8e8e8" stroke-width="1.1"/>
<path d="M131.0 873.8 l0.6 4.1 l1.8 -3.3" fill="none" stroke="#e8e8e8" stroke-width="1.1"/>
<path d="M139.1 874.0 l0.6 4.4 l1.8 -3.5" fill="none" stroke="#e8e8e8" stroke-width="1.1"/>
<path d="M147.2 873.4 l0.6 5.4 l1.8 -4.3" fill="none" stroke="#e8e8e8" stroke-width="1.1"/>
<path d="M155.3 874.4 l0.6 4.9 l1.8 -3.9" fill="none" stroke="#e8e8e8" stroke-width="1.1"/>
<path d="M163.4 875.4 l0.6 4.4 l1.8 -3.5" fill="none" stroke="#e8e8e8" stroke-width="1.1"/>
<path d="M171.5 877.0 l0.6 3.2 l1.8 -2.6" fill="none" stroke="#e8e8e8" stroke-width="1.1"/>
<path d="M179.6 875.8 l0.6 5.0 l1.8 -4.0" fill="none" stroke="#e8e8e8" stroke-width="1.1"/>
<path d="M187.8 878.1 l0.6 3.2 l1.8 -2.5" fill="none" stroke="#e8e8e8" stroke-width="1.1"/>
<path d="M195.9 876.4 l0.6 5.3 l1.8 -4.3" fill="none" stroke="#e8e8e8" stroke-width="1.1"/>
<path d="M204.0 878.0 l0.6 4.2 l1.8 -3.4" fill="none" stroke="#e8e8e8" stroke-width="1.1"/>
<path d="M212.1 877.3 l0.6 5.4 l1.8 -4.3" fill="none" stroke="#e8e8e8" stroke-width="1.1"/>
<path d="M220.2 878.0 l0.6 5.1 l1.8 -4.1" fill="none" stroke="#e8e8e8" stroke-width="1.1"/>
<path d="M228.3 878.6 l0.6 5.1 l1.8 -4.0" fill="none" stroke="#e8e8e8" stroke-width="1.1"/>
<path d="M236.4 879.9 l0.6 4.3 l1.8 -3.4" fill="none" stroke="#e8e8e8" stroke-width="1.1"/>
<path d="M244.5 881.0 l0.6 3.6 l1.8 -2.9" fill="none" stroke="#e8e8e8" stroke-width="1.1"/>
<path d="M252.6 880.7 l0.6 4.4 l1.8 -3.5" fill="none" stroke="#e8e8e8" stroke-width="1.1"/>
<path d="M260.7 880.6 l0.6 4.9 l1.8 -4.0" fill="none" stroke="#e8e8e8" stroke-width="1.1"/>
<path d="M268.8 882.4 l0.6 3.6 l1.8 -2.9" fill="none" stroke="#e8e8e8" stroke-width="1.1"/>
<path d="M276.9 882.7 l0.6 3.8 l1.8 -3.0" fill="none" stroke="#e8e8e8" stroke-width="1.1"/>
<path d="M285.0 882.2 l0.6 4.8 l1.8 -3.8" fill="none" stroke="#e8e8e8" stroke-width="1.1"/>
<g filter="url(#xb1)">
<path d="M108.0 905.0 L142.0 902.0 L170.0 900.0 L197.0 903.0 L224.0 908.0 L251.0 917.0" fill="none" stroke="#d0d0d0" stroke-width="1.3"/>
<path d="M108.0 911.0 L142.0 908.0 L170.0 906.0 L197.0 909.0 L224.0 914.0 L251.0 923.0" fill="none" stroke="#d0d0d0" stroke-width="1.3"/>
<g transform="translate(111.0,905.0) rotate(-5.4)"><rect x="-3.5" y="0" width="7" height="32.1" rx="2.8" fill="#ececec"/><ellipse cx="0" cy="1" rx="5.0" ry="4.2" fill="#ececec"/></g>
<g transform="translate(116.0,904.0) rotate(-5.5)"><rect x="-3.0" y="0" width="6" height="31.1" rx="2.4" fill="#ececec"/><ellipse cx="0" cy="1" rx="4.5" ry="3.8" fill="#ececec"/></g>
<g transform="translate(142.3,902.0) rotate(-2.2)"><rect x="-4.5" y="0" width="9" height="31.3" rx="3.6" fill="#ececec"/><ellipse cx="0" cy="1" rx="6.2" ry="5.2" fill="#ececec"/></g>
<g transform="translate(169.7,900.0) rotate(-2.2)"><rect x="-4.5" y="0" width="9" height="33.3" rx="3.6" fill="#ececec"/><ellipse cx="0" cy="1" rx="6.2" ry="5.2" fill="#ececec"/></g>
<g transform="translate(197.4,903.0) rotate(-1.0)"><rect x="-4.5" y="0" width="9" height="33.8" rx="3.6" fill="#ececec"/><ellipse cx="0" cy="1" rx="6.2" ry="5.2" fill="#ececec"/></g>
<g transform="translate(223.6,907.0) rotate(-1.5)"><rect x="-4.5" y="0" width="9" height="33.3" rx="3.6" fill="#ececec"/><ellipse cx="0" cy="1" rx="6.2" ry="5.2" fill="#ececec"/></g>
<g transform="translate(251.0,916.0) rotate(-1.8)"><rect x="-4.5" y="0" width="9" height="31.3" rx="3.6" fill="#ececec"/><ellipse cx="0" cy="1" rx="6.2" ry="5.2" fill="#ececec"/></g>
</g>
</g>
<clipPath id="cR2"><rect x="425.2" y="867.6" width="214" height="120.4"/></clipPath>
<g clip-path="url(#cR2)">
<rect x="425.2" y="867.6" width="214" height="120.4" fill="url(#gPost)"/>
<g filter="url(#xb4)">
<ellipse cx="450" cy="925" rx="25" ry="12" fill="#b0b0b0"/>
<ellipse cx="520" cy="965" rx="70" ry="15" fill="#8f8f8f"/>
<ellipse cx="600" cy="975" rx="30" ry="10" fill="#707070"/>
</g>
<path d="M423.2 865.6 L641.2 865.6 L641.2 898 L532.2 885.0 L423.2 876 Z" fill="#262626" filter="url(#xb1)"/>
<path d="M443.2 868.1 l0.6 6.9 l1.8 -5.5" fill="none" stroke="#e8e8e8" stroke-width="1.1"/>
<path d="M450.7 867.4 l0.6 8.4 l1.8 -6.8" fill="none" stroke="#e8e8e8" stroke-width="1.1"/>
<path d="M458.2 870.2 l0.6 6.5 l1.8 -5.2" fill="none" stroke="#e8e8e8" stroke-width="1.1"/>
<path d="M465.8 869.8 l0.6 7.8 l1.8 -6.3" fill="none" stroke="#e8e8e8" stroke-width="1.1"/>
<path d="M473.3 870.4 l0.6 8.1 l1.8 -6.5" fill="none" stroke="#e8e8e8" stroke-width="1.1"/>
<path d="M480.8 872.2 l0.6 7.2 l1.8 -5.7" fill="none" stroke="#e8e8e8" stroke-width="1.1"/>
<path d="M488.3 871.5 l0.6 8.8 l1.8 -7.0" fill="none" stroke="#e8e8e8" stroke-width="1.1"/>
<path d="M495.8 874.3 l0.6 6.9 l1.8 -5.5" fill="none" stroke="#e8e8e8" stroke-width="1.1"/>
<path d="M503.4 875.1 l0.6 6.9 l1.8 -5.6" fill="none" stroke="#e8e8e8" stroke-width="1.1"/>
<path d="M510.9 875.4 l0.6 7.6 l1.8 -6.1" fill="none" stroke="#e8e8e8" stroke-width="1.1"/>
<path d="M518.4 875.7 l0.6 8.1 l1.8 -6.5" fill="none" stroke="#e8e8e8" stroke-width="1.1"/>
<path d="M525.9 877.0 l0.6 7.7 l1.8 -6.1" fill="none" stroke="#e8e8e8" stroke-width="1.1"/>
<path d="M533.4 876.6 l0.6 9.0 l1.8 -7.2" fill="none" stroke="#e8e8e8" stroke-width="1.1"/>
<path d="M541.0 879.7 l0.6 6.8 l1.8 -5.4" fill="none" stroke="#e8e8e8" stroke-width="1.1"/>
<path d="M548.5 878.1 l0.6 9.3 l1.8 -7.4" fill="none" stroke="#e8e8e8" stroke-width="1.1"/>
<path d="M556.0 880.7 l0.6 7.5 l1.8 -6.0" fill="none" stroke="#e8e8e8" stroke-width="1.1"/>
<path d="M563.5 882.2 l0.6 6.9 l1.8 -5.5" fill="none" stroke="#e8e8e8" stroke-width="1.1"/>
<path d="M571.0 882.0 l0.6 7.9 l1.8 -6.4" fill="none" stroke="#e8e8e8" stroke-width="1.1"/>
<path d="M578.6 881.9 l0.6 9.0 l1.8 -7.2" fill="none" stroke="#e8e8e8" stroke-width="1.1"/>
<path d="M586.1 884.6 l0.6 7.1 l1.8 -5.7" fill="none" stroke="#e8e8e8" stroke-width="1.1"/>
<path d="M593.6 883.3 l0.6 9.3 l1.8 -7.5" fill="none" stroke="#e8e8e8" stroke-width="1.1"/>
<path d="M601.1 885.7 l0.6 7.8 l1.8 -6.3" fill="none" stroke="#e8e8e8" stroke-width="1.1"/>
<path d="M608.6 885.2 l0.6 9.2 l1.8 -7.3" fill="none" stroke="#e8e8e8" stroke-width="1.1"/>
<path d="M616.2 887.5 l0.6 7.8 l1.8 -6.2" fill="none" stroke="#e8e8e8" stroke-width="1.1"/>
<path d="M623.7 887.4 l0.6 8.7 l1.8 -7.0" fill="none" stroke="#e8e8e8" stroke-width="1.1"/>
<path d="M631.2 887.6 l0.6 9.4 l1.8 -7.5" fill="none" stroke="#e8e8e8" stroke-width="1.1"/>
<g filter="url(#xb1)">
<path d="M474.0 903.0 L495.0 904.0 L515.0 906.0 L541.0 907.0 L563.0 910.0 L591.0 915.0" fill="none" stroke="#d0d0d0" stroke-width="1.3"/>
<path d="M474.0 909.0 L495.0 910.0 L515.0 912.0 L541.0 913.0 L563.0 916.0 L591.0 921.0" fill="none" stroke="#d0d0d0" stroke-width="1.3"/>
<g transform="translate(474.3,902.0) rotate(-1.1)"><rect x="-4.5" y="0" width="9" height="35.0" rx="3.6" fill="#ececec"/><ellipse cx="0" cy="1" rx="6.2" ry="5.2" fill="#ececec"/></g>
<g transform="translate(494.6,903.0) rotate(-2.4)"><rect x="-4.5" y="0" width="9" height="34.0" rx="3.6" fill="#ececec"/><ellipse cx="0" cy="1" rx="6.2" ry="5.2" fill="#ececec"/></g>
<g transform="translate(515.3,905.0) rotate(-3.0)"><rect x="-4.5" y="0" width="9" height="32.0" rx="3.6" fill="#ececec"/><ellipse cx="0" cy="1" rx="6.2" ry="5.2" fill="#ececec"/></g>
<g transform="translate(540.9,906.0) rotate(-3.5)"><rect x="-4.5" y="0" width="9" height="34.7" rx="3.6" fill="#ececec"/><ellipse cx="0" cy="1" rx="6.2" ry="5.2" fill="#ececec"/></g>
<g transform="translate(563.0,909.0) rotate(-5.2)"><rect x="-4.5" y="0" width="9" height="33.1" rx="3.6" fill="#ececec"/><ellipse cx="0" cy="1" rx="6.2" ry="5.2" fill="#ececec"/></g>
<g transform="translate(590.6,914.0) rotate(-4.3)"><rect x="-4.5" y="0" width="9" height="31.9" rx="3.6" fill="#ececec"/><ellipse cx="0" cy="1" rx="6.2" ry="5.2" fill="#ececec"/></g>
</g>
</g>
<clipPath id="cL3"><rect x="61.4" y="979" width="231.4" height="92.2"/></clipPath>
<g clip-path="url(#cL3)">
<rect x="61.4" y="979" width="231.4" height="92.2" fill="url(#g4w)"/>
<rect x="61.4" y="979" width="231.4" height="8" fill="#6a6a6a" filter="url(#xb1)"/>
<g filter="url(#xb4)">
<ellipse cx="120" cy="1060" rx="60" ry="10" fill="#606060"/>
<ellipse cx="74" cy="1015" rx="8" ry="14" fill="#c8c8c8"/>
<ellipse cx="200" cy="1055" rx="50" ry="10" fill="#aaaaaa"/>
</g>
<g filter="url(#xb1)">
<path d="M90.0 1007.0 L123.0 1005.0 L159.0 1007.0 L193.0 1007.0 L227.0 1003.0 L262.0 1006.0" fill="none" stroke="#d0d0d0" stroke-width="1.3"/>
<path d="M90.0 1012.0 L123.0 1010.0 L159.0 1012.0 L193.0 1012.0 L227.0 1008.0 L262.0 1011.0" fill="none" stroke="#d0d0d0" stroke-width="1.3"/>
<path d="M90.0 1017.0 L123.0 1015.0 L159.0 1017.0 L193.0 1017.0 L227.0 1013.0 L262.0 1016.0" fill="none" stroke="#d0d0d0" stroke-width="1.3"/>
<g transform="translate(89.7,1005.0) rotate(-5.6)"><rect x="-5.5" y="0" width="11" height="40.2" rx="4.4" fill="#ececec"/><ellipse cx="0" cy="1" rx="7.2" ry="6.0" fill="#ececec"/></g>
<g transform="translate(123.0,1003.0) rotate(-12.0)"><rect x="-5.5" y="0" width="11" height="39.4" rx="4.4" fill="#ececec"/><ellipse cx="0" cy="1" rx="7.2" ry="6.0" fill="#ececec"/></g>
<g transform="translate(158.7,1005.0) rotate(-9.2)"><rect x="-5.5" y="0" width="11" height="40.5" rx="4.4" fill="#ececec"/><ellipse cx="0" cy="1" rx="7.2" ry="6.0" fill="#ececec"/></g>
<g transform="translate(192.7,1005.0) rotate(-12.5)"><rect x="-5.5" y="0" width="11" height="41.0" rx="4.4" fill="#ececec"/><ellipse cx="0" cy="1" rx="7.2" ry="6.0" fill="#ececec"/></g>
<g transform="translate(226.7,1001.0) rotate(-14.3)"><rect x="-5.5" y="0" width="11" height="43.3" rx="4.4" fill="#ececec"/><ellipse cx="0" cy="1" rx="7.2" ry="6.0" fill="#ececec"/></g>
<g transform="translate(261.7,1004.0) rotate(-18.7)"><rect x="-5.5" y="0" width="11" height="41.5" rx="4.4" fill="#ececec"/><ellipse cx="0" cy="1" rx="7.2" ry="6.0" fill="#ececec"/></g>
</g>
</g>
<clipPath id="cR3"><rect x="425.2" y="989" width="214" height="84.2"/></clipPath>
<g clip-path="url(#cR3)">
<rect x="425.2" y="989" width="214" height="84.2" fill="url(#g4w)"/>
<rect x="425.2" y="989" width="214" height="8" fill="#6a6a6a" filter="url(#xb1)"/>
<g filter="url(#xb4)">
<ellipse cx="440" cy="1060" rx="20" ry="15" fill="#707070"/>
<ellipse cx="600" cy="1000" rx="40" ry="10" fill="#a5a5a5"/>
</g>
<g filter="url(#xb1)">
<path d="M455.0 1002.0 L480.0 1012.0 L504.0 1022.0 L539.0 1026.0 L567.0 1025.0 L606.0 1014.0" fill="none" stroke="#d0d0d0" stroke-width="1.3"/>
<path d="M455.0 1007.0 L480.0 1017.0 L504.0 1027.0 L539.0 1031.0 L567.0 1030.0 L606.0 1019.0" fill="none" stroke="#d0d0d0" stroke-width="1.3"/>
<path d="M455.0 1012.0 L480.0 1022.0 L504.0 1032.0 L539.0 1036.0 L567.0 1035.0 L606.0 1024.0" fill="none" stroke="#d0d0d0" stroke-width="1.3"/>
<g transform="translate(455.0,1001.0) rotate(13.7)"><rect x="-6.0" y="0" width="12" height="44.3" rx="4.8" fill="#ececec"/><ellipse cx="0" cy="1" rx="8.0" ry="6.7" fill="#ececec"/></g>
<g transform="translate(479.6,1011.0) rotate(2.1)"><rect x="-6.0" y="0" width="12" height="43.0" rx="4.8" fill="#ececec"/><ellipse cx="0" cy="1" rx="8.0" ry="6.7" fill="#ececec"/></g>
<g transform="translate(504.0,1021.0) rotate(-9.5)"><rect x="-6.0" y="0" width="12" height="42.6" rx="4.8" fill="#ececec"/><ellipse cx="0" cy="1" rx="8.0" ry="6.7" fill="#ececec"/></g>
<g transform="translate(539.0,1025.0) rotate(-15.9)"><rect x="-6.0" y="0" width="12" height="43.7" rx="4.8" fill="#ececec"/><ellipse cx="0" cy="1" rx="8.0" ry="6.7" fill="#ececec"/></g>
<g transform="translate(567.0,1025.0) rotate(-25.3)"><rect x="-6.0" y="0" width="12" height="42.0" rx="4.8" fill="#ececec"/><ellipse cx="0" cy="1" rx="8.0" ry="6.7" fill="#ececec"/></g>
<g transform="translate(606.0,1014.0) rotate(-33.0)"><rect x="-6.5" y="0" width="13" height="44.1" rx="5.2" fill="#ececec"/><ellipse cx="0" cy="1" rx="8.5" ry="7.1" fill="#ececec"/></g>
</g>
</g>
<clipPath id="cA1"><rect x="281.1" y="1050.5" width="77.1" height="126.5"/></clipPath>
<g clip-path="url(#cA1)">
<rect x="281.1" y="1050.5" width="77.1" height="126.5" fill="url(#gAP)"/>
<g filter="url(#xb2)">
<ellipse cx="290" cy="1062" rx="7" ry="6" fill="#6a6a6a"/>
<ellipse cx="298" cy="1072" rx="6" ry="5" fill="#707070"/>
<ellipse cx="289" cy="1082" rx="6" ry="7" fill="#6c6c6c"/>
<ellipse cx="300" cy="1090" rx="7" ry="5" fill="#747474"/>
<ellipse cx="291" cy="1100" rx="7" ry="6" fill="#707070"/>
<ellipse cx="303" cy="1060" rx="5" ry="4" fill="#777"/>
<ellipse cx="346" cy="1062" rx="6" ry="5" fill="#777"/>
<ellipse cx="350" cy="1075" rx="6" ry="7" fill="#727272"/>
<ellipse cx="344" cy="1090" rx="5" ry="5" fill="#7a7a7a"/>
<ellipse cx="352" cy="1098" rx="5" ry="6" fill="#777"/>
<ellipse cx="292" cy="1120" rx="12" ry="8" fill="#8a8a8a"/>
<ellipse cx="320" cy="1160" rx="30" ry="12" fill="#b4b4b4"/>
<ellipse cx="300" cy="1138" rx="25" ry="5" fill="#838383"/>
<ellipse cx="345" cy="1140" rx="15" ry="5" fill="#838383"/>
</g>
<g filter="url(#xb1)" fill="#e6e6e6" stroke="#e6e6e6">
<line x1="312" y1="1057" x2="312" y2="1126" stroke-width="1.2"/>
<line x1="337" y1="1057" x2="337" y2="1126" stroke-width="1.2"/>
<line x1="312" y1="1057.4" x2="322.5" y2="1057.4" stroke-width="3" stroke-linecap="round"/>
<circle cx="312" cy="1057.4" r="2.3" stroke="none"/>
<line x1="337.5" y1="1057.4" x2="327" y2="1057.4" stroke-width="3" stroke-linecap="round"/>
<circle cx="337.5" cy="1057.4" r="2.3" stroke="none"/>
<line x1="312" y1="1071.6" x2="322.5" y2="1071.6" stroke-width="3" stroke-linecap="round"/>
<circle cx="312" cy="1071.6" r="2.3" stroke="none"/>
<line x1="337.5" y1="1071.6" x2="327" y2="1071.6" stroke-width="3" stroke-linecap="round"/>
<circle cx="337.5" cy="1071.6" r="2.3" stroke="none"/>
<line x1="312" y1="1085.5" x2="322.5" y2="1085.5" stroke-width="3" stroke-linecap="round"/>
<circle cx="312" cy="1085.5" r="2.3" stroke="none"/>
<line x1="337.5" y1="1085.5" x2="327" y2="1085.5" stroke-width="3" stroke-linecap="round"/>
<circle cx="337.5" cy="1085.5" r="2.3" stroke="none"/>
<line x1="312" y1="1099.1" x2="322.5" y2="1099.1" stroke-width="3" stroke-linecap="round"/>
<circle cx="312" cy="1099.1" r="2.3" stroke="none"/>
<line x1="337.5" y1="1099.1" x2="327" y2="1099.1" stroke-width="3" stroke-linecap="round"/>
<circle cx="337.5" cy="1099.1" r="2.3" stroke="none"/>
<line x1="312" y1="1112" x2="322.5" y2="1112" stroke-width="3" stroke-linecap="round"/>
<circle cx="312" cy="1112" r="2.3" stroke="none"/>
<line x1="337.5" y1="1112" x2="327" y2="1112" stroke-width="3" stroke-linecap="round"/>
<circle cx="337.5" cy="1112" r="2.3" stroke="none"/>
<line x1="312" y1="1125.7" x2="322.5" y2="1125.7" stroke-width="3" stroke-linecap="round"/>
<circle cx="312" cy="1125.7" r="2.3" stroke="none"/>
<line x1="337.5" y1="1125.7" x2="327" y2="1125.7" stroke-width="3" stroke-linecap="round"/>
<circle cx="337.5" cy="1125.7" r="2.3" stroke="none"/>
</g></g>
<clipPath id="cA2"><rect x="361.4" y="1050.5" width="76.9" height="126.5"/></clipPath>
<g clip-path="url(#cA2)">
<rect x="361.4" y="1050.5" width="76.9" height="126.5" fill="url(#gAP)"/>
<g filter="url(#xb2)">
<ellipse cx="368" cy="1068" rx="6" ry="6" fill="#606060"/>
<ellipse cx="377" cy="1075" rx="6" ry="5" fill="#676767"/>
<ellipse cx="366" cy="1083" rx="6" ry="7" fill="#626262"/>
<ellipse cx="378" cy="1092" rx="6" ry="6" fill="#656565"/>
<ellipse cx="367" cy="1102" rx="6" ry="6" fill="#646464"/>
<ellipse cx="376" cy="1112" rx="6" ry="5" fill="#6a6a6a"/>
<ellipse cx="368" cy="1122" rx="6" ry="6" fill="#6c6c6c"/>
<ellipse cx="378" cy="1132" rx="5" ry="5" fill="#707070"/>
<ellipse cx="370" cy="1145" rx="8" ry="6" fill="#7a7a7a"/>
<ellipse cx="428" cy="1100" rx="8" ry="25" fill="#8e8e8e"/>
<ellipse cx="410" cy="1165" rx="30" ry="10" fill="#b2b2b2"/>
<ellipse cx="420" cy="1140" rx="16" ry="5" fill="#858585"/>
</g>
<g filter="url(#xb1)" fill="#e6e6e6" stroke="#e6e6e6">
<line x1="389" y1="1070" x2="389" y2="1124" stroke-width="1.2"/>
<line x1="409" y1="1070" x2="409" y2="1124" stroke-width="1.2"/>
<line x1="389" y1="1069.8" x2="398" y2="1064" stroke-width="3" stroke-linecap="round"/>
<circle cx="389" cy="1069.8" r="2.3" stroke="none"/>
<line x1="409" y1="1069.8" x2="400" y2="1064" stroke-width="3" stroke-linecap="round"/>
<circle cx="409" cy="1069.8" r="2.3" stroke="none"/>
<line x1="388" y1="1081" x2="397" y2="1078" stroke-width="3" stroke-linecap="round"/>
<circle cx="388" cy="1081" r="2.3" stroke="none"/>
<line x1="410" y1="1081" x2="401" y2="1078" stroke-width="3" stroke-linecap="round"/>
<circle cx="410" cy="1081" r="2.3" stroke="none"/>
<line x1="389" y1="1090" x2="397" y2="1090" stroke-width="3" stroke-linecap="round"/>
<circle cx="389" cy="1090" r="2.3" stroke="none"/>
<line x1="409" y1="1089" x2="401" y2="1090" stroke-width="3" stroke-linecap="round"/>
<circle cx="409" cy="1089" r="2.3" stroke="none"/>
<line x1="388" y1="1101" x2="397" y2="1101" stroke-width="3" stroke-linecap="round"/>
<circle cx="388" cy="1101" r="2.3" stroke="none"/>
<line x1="410" y1="1099" x2="402" y2="1101" stroke-width="3" stroke-linecap="round"/>
<circle cx="410" cy="1099" r="2.3" stroke="none"/>
<line x1="388" y1="1111" x2="397" y2="1114" stroke-width="3" stroke-linecap="round"/>
<circle cx="388" cy="1111" r="2.3" stroke="none"/>
<line x1="409" y1="1111" x2="401" y2="1114" stroke-width="3" stroke-linecap="round"/>
<circle cx="409" cy="1111" r="2.3" stroke="none"/>
<line x1="388" y1="1124" x2="398" y2="1129" stroke-width="3" stroke-linecap="round"/>
<circle cx="388" cy="1124" r="2.3" stroke="none"/>
<line x1="409" y1="1124" x2="400" y2="1129" stroke-width="3" stroke-linecap="round"/>
<circle cx="409" cy="1124" r="2.3" stroke="none"/>
</g></g>
<g fill="#f4f4f4" stroke="#f4f4f4" stroke-width="0.35" font-size="14">
    <text x="137.6" y="759.8" textLength="75.4" lengthAdjust="spacingAndGlyphs">Low Tension</text>
    <text x="495.3" y="757.3" textLength="79.6" lengthAdjust="spacingAndGlyphs">High Tension</text>
    <text x="297.4" y="821.8" textLength="126.6" lengthAdjust="spacingAndGlyphs">Pre-Instrumentation</text>
    <text x="312.5" y="925.8" textLength="93" lengthAdjust="spacingAndGlyphs">Post-Operative</text>
    <text x="327.3" y="1020.4" textLength="70.7" lengthAdjust="spacingAndGlyphs">4-Weeks at</text>
    <text x="329.9" y="1038.8" textLength="64.9" lengthAdjust="spacingAndGlyphs">Collection</text>
</g>
</g>
</svg>
</body></html>
